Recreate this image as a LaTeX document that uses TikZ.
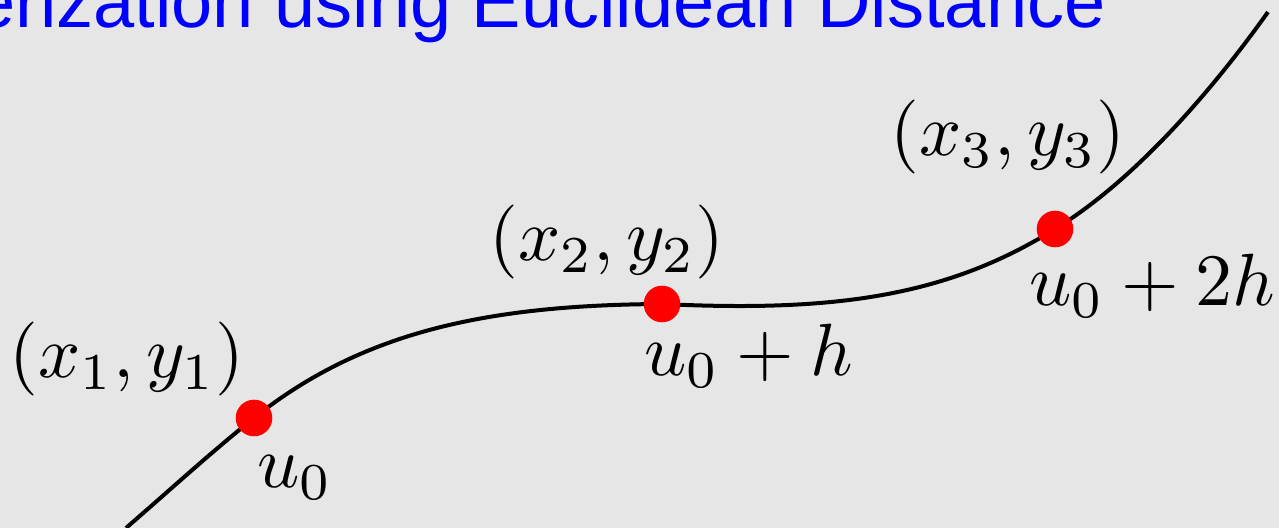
\documentclass[tikz,border=0pt]{standalone}
\usepackage[no-math]{fontspec}
\newfontfamily\titlefont{Liberation Sans}
\definecolor{bgc}{HTML}{E6E6E6}
\definecolor{ttl}{RGB}{0,0,255}
\newcommand{\mylabelmath}[1]{\scalebox{3.7}{$#1$}}
\tikzset{
  lbl/.style={inner sep=0pt, font=\normalsize},
  pt/.style={circle, fill=red, inner sep=0pt, minimum size=18.3pt},
  crv/.style={line width=2pt, black}
}
\begin{document}
\begin{tikzpicture}[x=0.5pt, y=-0.5pt]
\fill[bgc] (0,0) rectangle (1279,528);
\useasboundingbox (0,0) rectangle (1279,528);
\node[inner sep=0pt, anchor=base east, text=ttl, font=\titlefont\fontsize{37}{44}\selectfont] (title) at (1106,28) {Parameterization using Euclidean Distance};
\coordinate (s) at (126,528);
\coordinate (e) at (1268,12);
\coordinate (c1) at (254,418);
\coordinate (c2) at (662,304);
\coordinate (c3) at (1055,229);
\draw[crv] (s) .. controls (170,490) and (209,454) .. (c1)
  .. controls (364,330) and (492,305) .. (c2)
  .. controls (830,312) and (945,298) .. (c3)
  .. controls (1155,168) and (1243,47) .. (e);
\node[pt] (p1) at (c1) {};
\node[pt] (p2) at (c2) {};
\node[pt] (p3) at (c3) {};
\node[lbl, anchor=base] (l1) at (127,378) {\mylabelmath{(x_1,y_1)}};
\node[lbl, anchor=base] (l2) at (607,261) {\mylabelmath{(x_2,y_2)}};
\node[lbl, anchor=base] (l3) at (1008,156) {\mylabelmath{(x_3,y_3)}};
\node[lbl, anchor=base west] (u1) at (257,488) {\mylabelmath{u_0}};
\node[lbl, anchor=base west] (u2) at (644,376) {\mylabelmath{u_0+h}};
\node[lbl, anchor=base west] (u3) at (1029,306) {\mylabelmath{u_0+2h}};
\end{tikzpicture}
\end{document}
